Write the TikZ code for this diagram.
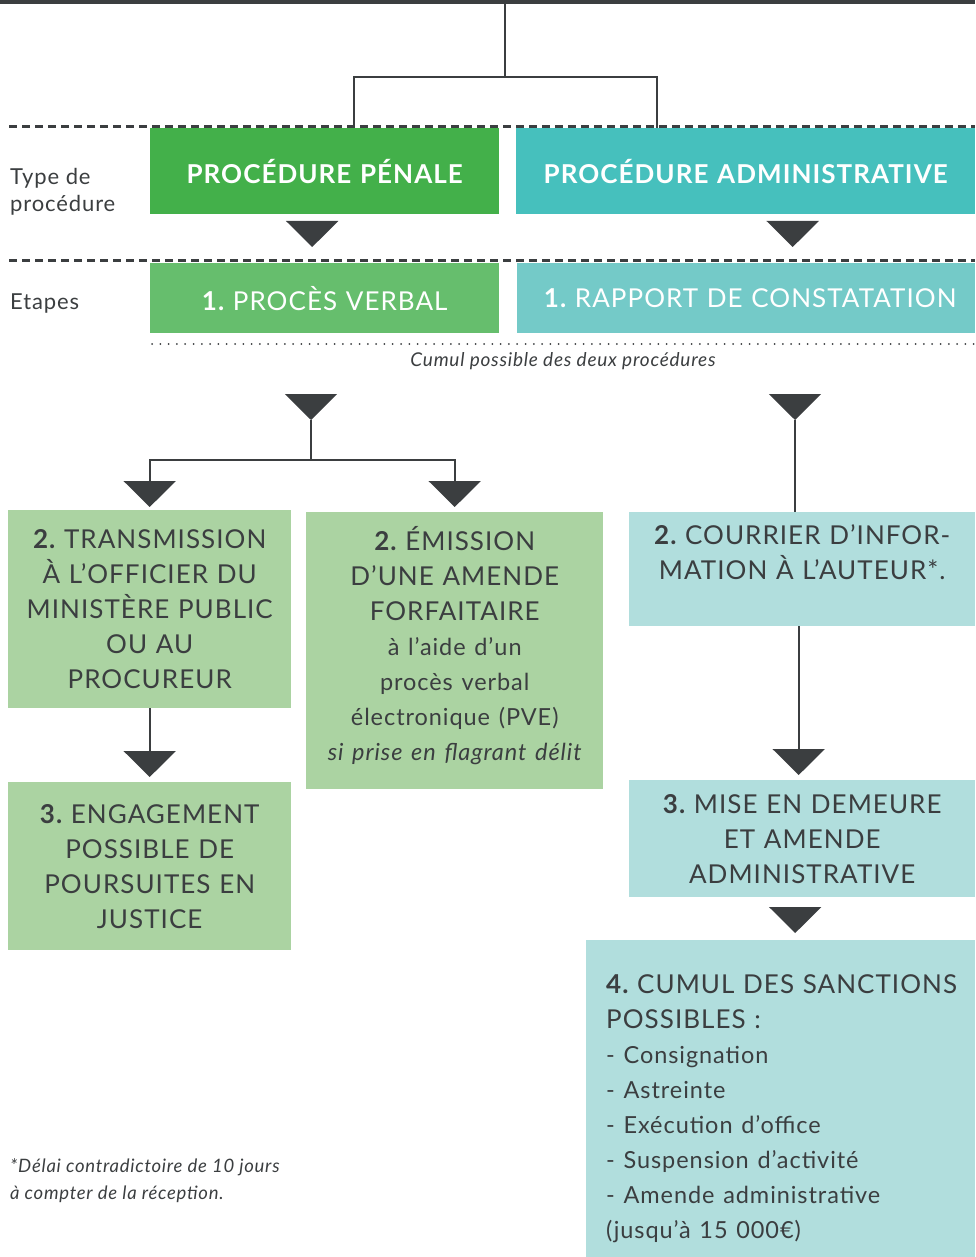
\documentclass[tikz,border=0pt]{standalone}
\usepackage{fontspec}
\setmainfont{Lato}[LetterSpace=4]
\usepackage{tikz}
\usetikzlibrary{positioning, arrows.meta}
\frenchspacing

\definecolor{encre}{HTML}{3B3E40}
\definecolor{vertA}{HTML}{43B04A}
\definecolor{vertB}{HTML}{66BE6D}
\definecolor{vertC}{HTML}{ABD3A2}
\definecolor{bleuA}{HTML}{46C0BD}
\definecolor{bleuB}{HTML}{74CAC8}
\definecolor{bleuC}{HTML}{B1DEDD}

\newcommand\entete{\fontsize{26}{30}\selectfont\bfseries}
\newcommand\etape{\fontsize{26}{30}\selectfont}
\newcommand\corps{\fontsize{26}{35}\selectfont}
\newcommand\petit{\fontsize{23.5}{35}\selectfont}

\begin{document}
\begin{tikzpicture}[x=1pt, y=-1pt,
  boite/.style={rectangle, anchor=north west, inner sep=0pt, align=center, text=encre, font=\corps},
  legende/.style={anchor=north west, inner sep=0pt, align=left, text=encre, font=\fontsize{22}{27}\selectfont},
  trait/.style={draw=encre, line width=2.2pt},
  fleche/.style={trait, -{Triangle[width=52pt, length=26pt]}},
  tirets/.style={draw=encre, line width=3pt, dash pattern=on 8pt off 5pt}]
\useasboundingbox (0,0) rectangle (975,1257);

% bandeau du haut
\fill[encre] (0,0) rectangle (975,4);

% types de procedure
\node[boite, fill=vertA, text=white, font=\entete, text width=349pt, minimum height=86pt] (penale) at (150,128) {PROCÉDURE PÉNALE};
\node[boite, fill=bleuA, text=white, font=\entete, text width=459pt, minimum height=86pt] (admin) at (516,128) {PROCÉDURE ADMINISTRATIVE};
\node[legende] (type) at (10,168) {Type de\\procédure};

% etapes 1
\node[boite, fill=vertB, text=white, font=\etape, text width=349pt, minimum height=70pt] (pv) at (150,263) {{\bfseries 1.} PROCÈS VERBAL};
\node[boite, fill=bleuB, text=white, font=\etape, text width=458pt, minimum height=70pt] (rapport) at (517,263) {\hspace*{8pt}{\bfseries 1.} RAPPORT DE CONSTATATION};
\node[legende, anchor=base west] (etapes) at (10,309) {Etapes};

\draw[encre, line width=2pt, line cap=round, dash pattern=on 0pt off 8.3pt] (152,344) -- (975,344);
\node[text=encre, font=\fontsize{19}{22}\selectfont\itshape, inner sep=0pt] (cumul) at (563,361) {Cumul possible des deux procédures};

% etapes 2 et suivantes
\node[boite, fill=vertC, text width=283pt, minimum height=198pt] (transmission) at (8,510)
  {{\bfseries 2.} TRANSMISSION\\ À L’OFFICIER DU\\ MINISTÈRE PUBLIC\\ OU AU\\ PROCUREUR};
\node[boite, fill=vertC, text width=297pt, minimum height=277pt] (emission) at (306,512)
  {{\bfseries 2.} ÉMISSION\\ D’UNE AMENDE\\ FORFAITAIRE\\ {\petit à l’aide d’un}\\ {\petit procès verbal}\\ {\petit électronique (PVE)}\\ {\petit\itshape si prise en flagrant délit}\vspace*{10pt}};
\node[boite, fill=vertC, text width=283pt, minimum height=168pt] (engagement) at (8,782)
  {{\bfseries 3.} ENGAGEMENT\\ POSSIBLE DE\\ POURSUITES EN\\ JUSTICE};
\node[boite, fill=bleuC, text width=346pt, minimum height=114pt] (courrier) at (629,512)
  {{\bfseries 2.} COURRIER D’INFOR-\\ MATION À L’AUTEUR*.\\ \mbox{}};
\node[boite, fill=bleuC, text width=346pt, minimum height=117pt] (demeure) at (629,780)
  {{\bfseries 3.} MISE EN DEMEURE\\ ET AMENDE\\ ADMINISTRATIVE};
\node[boite, fill=bleuC, align=left, inner xsep=20pt, text width=349pt, minimum height=317pt] (sanctions) at (586,940)
  {{\bfseries 4.} CUMUL DES SANCTIONS\\ POSSIBLES :\\ {\petit - Consignation}\\ {\petit - Astreinte}\\ {\petit - Exécution d’office}\\ {\petit - Suspension d’activité}\\ {\petit - Amende administrative}\\ {\petit (jusqu’à 15~000€)}\vspace*{-20pt}};

\node[legende, font=\fontsize{18.5}{27}\selectfont\itshape] (renvoi) at (10,1158)
  {*Délai contradictoire de 10 jours\\ à compter de la réception.};

% lignes pointillees
\draw[tirets] (9,126.5) -- (975,126.5);
\draw[tirets] (9,260) -- (975,260);

% liaisons
\coordinate (racine) at (505,4);
\coordinate (fourche) at (505,77);
\draw[trait] (racine) -- (fourche);
\draw[trait] (fourche) -| ([xshift=29.5pt]penale.north);
\draw[trait] (fourche) -| ([xshift=-88.5pt]admin.north);

\draw[fleche, shorten <=7pt, shorten >=16pt] ([xshift=-12.5pt]penale.south) -- ([xshift=-12.5pt]pv.north);
\draw[fleche, shorten <=7pt, shorten >=16pt] ([xshift=47pt]admin.south) -- ([xshift=47pt]admin.south |- rapport.north);

\coordinate (pointeG) at (311,420);
\coordinate (partage) at (311,460);
\draw[fleche, shorten <=61pt] (pv.south -| pointeG) -- (pointeG);
\draw[trait] (pointeG) -- (partage);
\draw[fleche, shorten >=3pt] (partage) -| (transmission.north);
\draw[fleche, shorten >=5pt] (partage) -| (emission.north);
\draw[fleche, shorten >=5pt] (transmission) -- (engagement);

\coordinate (pointeD) at (795,420);
\draw[fleche, shorten <=61pt] (rapport.south -| pointeD) -- (pointeD);
\draw[trait] (pointeD) -- (courrier.north -| pointeD);
\draw[fleche, shorten >=5pt] ([xshift=-3.5pt]courrier.south) -- ([xshift=-3.5pt]demeure.north);
\draw[fleche, shorten <=10pt, shorten >=7pt] ([xshift=-7pt]demeure.south) -- ([xshift=-7pt]demeure.south |- sanctions.north);
\end{tikzpicture}
\end{document}
